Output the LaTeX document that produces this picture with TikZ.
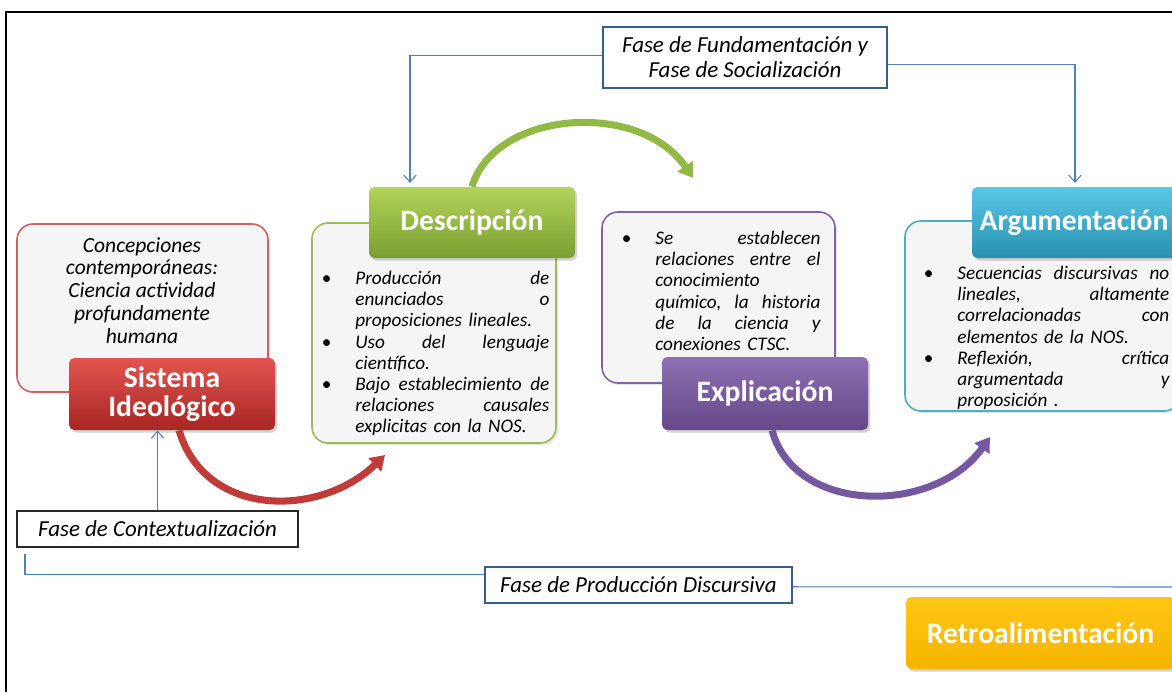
\documentclass[tikz,border=0pt]{standalone}
\usepackage{fontspec}
\setmainfont{Carlito}
\usetikzlibrary{arrows.meta,shadows}

\definecolor{fondoGris}{RGB}{245,245,245}
\definecolor{rojoBorde}{RGB}{205,100,97}
\definecolor{verdeBorde}{RGB}{155,187,89}
\definecolor{moradoBorde}{RGB}{128,100,162}
\definecolor{azulBorde}{RGB}{75,172,198}
\definecolor{azulLinea}{RGB}{79,129,189}
\definecolor{azulMarco}{RGB}{56,93,138}
\definecolor{grisMarco}{RGB}{40,40,40}
\definecolor{rojoClaro}{RGB}{226,84,80}
\definecolor{rojoOscuro}{RGB}{168,38,35}
\definecolor{verdeClaro}{RGB}{178,212,92}
\definecolor{verdeOscuro}{RGB}{122,158,48}
\definecolor{moradoClaro}{RGB}{142,112,180}
\definecolor{moradoOscuro}{RGB}{100,72,135}
\definecolor{azulClaro}{RGB}{88,200,230}
\definecolor{azulOscuro}{RGB}{40,145,175}
\definecolor{naranjaClaro}{RGB}{255,198,20}
\definecolor{naranjaOscuro}{RGB}{245,180,0}
\definecolor{rojoFlecha}{RGB}{192,60,57}
\definecolor{verdeFlecha}{RGB}{146,184,70}
\definecolor{moradoFlecha}{RGB}{118,88,160}

\newlength{\sangria}
\setlength{\sangria}{19pt}
\newcommand{\salto}{\hfil\break}
\newcommand{\vineta}[1]{\par\hangindent=\sangria\hangafter=0\noindent\llap{\makebox[\sangria][l]{\upshape\textbullet}}#1\par}

\tikzset{
  caja/.style 2 args={minimum width=#1*0.567pt, minimum height=#2*0.567pt},
  fondo/.style={draw, line width=0.9pt, rounded corners=9pt, fill=fondoGris, inner sep=0pt,
    drop shadow={opacity=0.2, shadow xshift=1.2pt, shadow yshift=-1.2pt}},
  cabecera/.style={rounded corners=3pt, inner sep=0pt, text=white, align=center,
    font=\fontsize{16.8}{16.5}\selectfont\bfseries,
    drop shadow={opacity=0.35, shadow xshift=1.2pt, shadow yshift=-1.5pt}},
  fase/.style={draw, line width=0.6pt, fill=white, inner sep=0pt, align=center,
    font=\fontsize{13}{14.2}\selectfont\itshape},
  texto/.style={anchor=north west, inner sep=0pt, font=\fontsize{10.9}{12}\selectfont\itshape},
  conector/.style={draw=azulLinea, line width=0.6pt},
  punta/.style={-{Straight Barb[length=4pt,width=7pt]}},
  gruesa/.style={line width=4pt, -{Triangle[length=8pt,width=10pt]}}
}

\begin{document}
\begin{tikzpicture}[x=0.567pt, y=-0.567pt]
\useasboundingbox (0,0) rectangle (1172,692);

\draw[line width=1.6pt] (5,12) -- (1172,12);
\draw[line width=1pt] (6,12) -- (6,692);

\node[fondo, draw=rojoBorde, caja={251}{168}] (sisFondo) at (142.5,308) {};
\node[texto, anchor=north, align=center, font=\fontsize{12.2}{12.9}\selectfont\itshape] (sisTexto) at (142,237)
  {Concepciones\\contemporáneas:\\Ciencia actividad\\profundamente\\humana};
\node[cabecera, top color=rojoClaro, bottom color=rojoOscuro, caja={206}{72}] (sistema) at (172,394) {Sistema\\Ideológico};

\node[fondo, draw=verdeBorde, caja={244}{220}] (desFondo) at (434,333) {};
\node[texto, text width=129pt] (desTexto) at (321.5,263) {%
  \vineta{Producción\hfill de\salto enunciados\hfill o\salto proposiciones lineales.}%
  \vineta{Uso\hfill del\hfill lenguaje\salto científico.}%
  \vineta{Bajo\hfill establecimiento\hfill de\salto relaciones\hfill causales\salto explicitas con la NOS.}};
\node[cabecera, top color=verdeClaro, bottom color=verdeOscuro, caja={206}{71}] (descripcion) at (472,222.5) {Descripción};

\node[fondo, draw=moradoBorde, caja={233}{171}] (expFondo) at (718.5,297.5) {};
\node[texto, text width=112.6pt] (expTexto) at (621.5,223) {%
  \vineta{Se\hfill establecen\salto relaciones\hfill entre\hfill el\salto conocimiento\salto químico,\hfill la\hfill historia\salto de\hfill la\hfill ciencia\hfill y\salto conexiones CTSC.}};
\node[cabecera, top color=moradoClaro, bottom color=moradoOscuro, caja={206}{73}] (explicacion) at (765,393.5) {Explicación};

\node[fondo, draw=azulBorde, caja={275}{190}] (argFondo) at (1042.5,316) {};
\node[texto, text width=139.2pt] (argTexto) at (923.5,258) {%
  \vineta{Secuencias\hfill discursivas\hfill no\salto lineales,\hfill altamente\salto correlacionadas\hfill con\salto elementos de la NOS.}%
  \vineta{Reflexión,\hfill crítica\salto argumentada\hfill y\salto proposición .}};
\node[cabecera, top color=azulClaro, bottom color=azulOscuro, caja={204}{71}] (argumentacion) at (1074,222.5) {Argumentación};

\node[cabecera, top color=naranjaClaro, bottom color=naranjaOscuro, caja={269}{72}] (retro) at (1040.5,633) {Retroalimentación};

\node[fase, draw=azulMarco, caja={284}{61}] (fundamentacion) at (745,57.5) {Fase de Fundamentación y\\Fase de Socialización};
\node[fase, draw=grisMarco, caja={281}{36}] (contexto) at (157.5,529) {Fase de Contextualización};
\node[fase, draw=azulMarco, caja={307}{36}] (produccion) at (638.5,585) {Fase de Producción Discursiva};

\coordinate (desLlega) at (410,183);
\coordinate (argLlega) at (1075,183);
\coordinate (prodInicio) at (25,554);
\coordinate (prodFin) at (1180,587);
\draw[conector, punta] ([yshift=1.4pt]fundamentacion.west) -| (desLlega);
\draw[conector, punta] ([yshift=-4pt]fundamentacion.east) -| (argLlega);
\draw[conector, punta] (contexto.north) -- (contexto.north |- sistema.south);
\draw[conector] (prodInicio) |- ([yshift=5.7pt]produccion.west);
\draw[conector] ([yshift=-1pt]produccion.east) -- (prodFin);

\coordinate (rojoFin) at (385,455);
\coordinate (verdeFin) at (693,178);
\coordinate (moradoFin) at (990,437);
\draw[gruesa, draw=rojoFlecha] ([xshift=4pt]sistema.south) .. controls (205,518) and (320,518) .. (rojoFin);
\draw[gruesa, draw=verdeFlecha] (descripcion.north) .. controls (495,110) and (640,100) .. (verdeFin);
\draw[gruesa, draw=moradoFlecha] ([xshift=4pt]explicacion.south) .. controls (795,515) and (935,515) .. (moradoFin);

\end{tikzpicture}
\end{document}
